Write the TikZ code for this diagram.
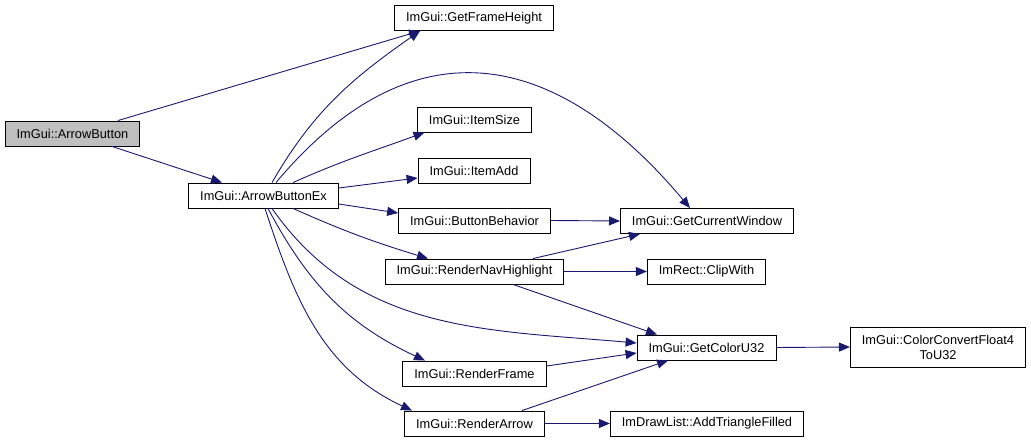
\documentclass[tikz,border=0pt]{standalone}
\usepackage{fontspec}
\setmainfont{Liberation Sans}
\usetikzlibrary{arrows.meta}
\definecolor{edgenavy}{HTML}{191970}
\definecolor{rootgray}{HTML}{BFBFBF}
\tikzset{
  >={Triangle[length=11pt,width=9pt]},
  % boxes
  fnbox/.style={draw=black,line width=0.9pt,fill=white,minimum height=25pt,
                inner xsep=11.5pt,inner ysep=2pt,font=\fontsize{12.8}{15}\selectfont},
  rootbox/.style={fnbox,fill=rootgray},
  % calls
  call/.style={->,draw=edgenavy,line width=0.9pt},
}
\begin{document}
\begin{tikzpicture}[x=1pt,y=-1pt]
\useasboundingbox (0,0) rectangle (1031,443);
  \node[rootbox] (ab) at (72.5,133.5) {ImGui::ArrowButton};
  \node[fnbox] (abx) at (263.5,195.5) {ImGui::ArrowButtonEx};
  \node[fnbox] (gfh) at (474,18) {ImGui::GetFrameHeight};
  \node[fnbox] (isz) at (474.5,119.5) {ImGui::ItemSize};
  \node[fnbox] (iadd) at (474,170.5) {ImGui::ItemAdd};
  \node[fnbox] (bb) at (474.5,220.5) {ImGui::ButtonBehavior};
  \node[fnbox] (rnh) at (474.5,271.5) {ImGui::RenderNavHighlight};
  \node[fnbox] (rf) at (474.5,373.5) {ImGui::RenderFrame};
  \node[fnbox] (ra) at (474.5,423.5) {ImGui::RenderArrow};
  \node[fnbox] (gcw) at (707,221) {ImGui::GetCurrentWindow};
  \node[fnbox] (clip) at (706.5,271.5) {ImRect::ClipWith};
  \node[fnbox] (gcu) at (706.5,347.5) {ImGui::GetColorU32};
  \node[fnbox,minimum height=40pt,align=center] (ccf) at (938,347)
    {ImGui::ColorConvertFloat4\\ToU32};
  \node[fnbox] (atf) at (707,423.5) {ImDrawList::AddTriangleFilled};
  % from the root
  \draw[call] ([xshift=45.5pt]ab.north) -- ([xshift=-54pt]gfh.south);
  \draw[call] ([xshift=39.5pt]ab.south) -- ([xshift=-41.5pt]abx.north);
  % from ArrowButtonEx
  \draw[call] ([xshift=8.5pt]abx.north) to[out=60,in=215] ([xshift=-54pt]gfh.south);
  \draw[call] ([xshift=12.5pt]abx.north) to[out=50,in=130,looseness=1.3] ([xshift=-17pt]gcw.north);
  \draw[call] ([xshift=29.5pt]abx.north) to[out=24,in=200] ([xshift=-50pt]isz.south);
  \draw[call] ([yshift=7.5pt]abx.east) -- ([yshift=-7.5pt]iadd.west);
  \draw[call] ([yshift=-8.5pt]abx.east) -- ([yshift=7.5pt]bb.west);
  \draw[call] ([xshift=29.5pt]abx.south) to[out=-24,in=163] ([xshift=-46.5pt]rnh.north);
  \draw[call] ([xshift=8.5pt]abx.south) to[out=-55,in=175] ([yshift=4.5pt]gcu.west);
  \draw[call] ([xshift=4.5pt]abx.south) to[out=-62,in=155] ([xshift=-49.5pt]rf.north);
  \draw[call] ([xshift=1.5pt]abx.south) to[out=-72,in=155] ([xshift=-62.5pt]ra.north);
  % second level
  \draw[call] (bb.east) -- (gcw.west);
  \draw[call] ([xshift=58.5pt]rnh.north) -- ([xshift=-67pt]gcw.south);
  \draw[call] (rnh.east) -- (clip.west);
  \draw[call] ([xshift=38.5pt]rnh.south) -- ([xshift=-49.5pt]gcu.north);
  \draw[call] ([yshift=7.5pt]rf.east) -- ([yshift=-5.5pt]gcu.west);
  \draw[call] ([xshift=47.5pt]ra.north) -- ([xshift=-38.5pt]gcu.south);
  \draw[call] (ra.east) -- (atf.west);
  \draw[call] (gcu.east) -- (ccf.west);
\end{tikzpicture}
\end{document}
